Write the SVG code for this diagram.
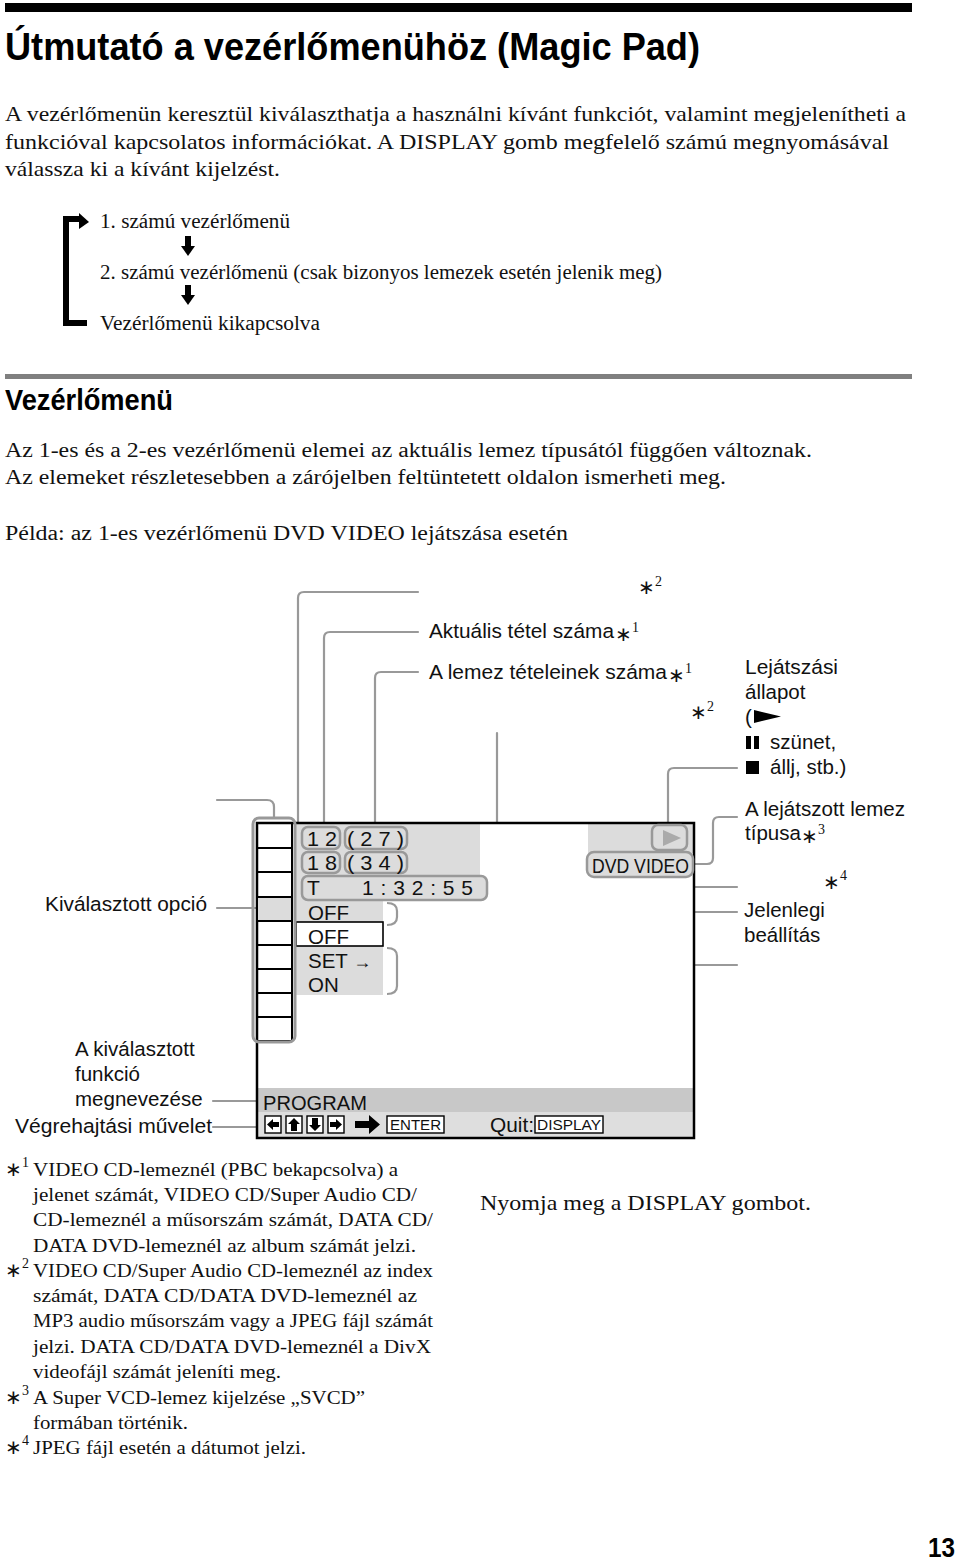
<svg xmlns="http://www.w3.org/2000/svg" width="960" height="1564" viewBox="0 0 960 1564">
<style>
.serif{font-family:"Liberation Serif","Times New Roman",serif;fill:#111}
.sans{font-family:"Liberation Sans",Arial,sans-serif;fill:#111}
.head{font-family:"Liberation Sans",Arial,sans-serif;font-weight:bold;fill:#000}
.conn{fill:none;stroke:#999;stroke-width:2.2;stroke-linecap:round;stroke-linejoin:round}
.pill{fill:#dcdcdc;stroke:#999;stroke-width:2.5}
.bg{fill:#dcdcdc}
.line{stroke:#000;stroke-width:2}
.key{fill:#fff;stroke:#000;stroke-width:1.4}
.blk{fill:#000}
.ast{font-family:"Liberation Serif","Times New Roman",serif;fill:#111;font-size:20px}
</style>
<rect width="960" height="1564" fill="#fff"/>

<g id="header">
  <rect x="5" y="3" width="907" height="9" fill="#000"/>
  <text class="head" x="5" y="60" font-size="39" textLength="695" lengthAdjust="spacingAndGlyphs">Útmutató a vezérlőmenühöz (Magic Pad)</text>
</g>

<g id="intro" class="serif" font-size="21">
  <text x="5" y="121" textLength="901" lengthAdjust="spacingAndGlyphs">A vezérlőmenün keresztül kiválaszthatja a használni kívánt funkciót, valamint megjelenítheti a</text>
  <text x="5" y="149" textLength="884" lengthAdjust="spacingAndGlyphs">funkcióval kapcsolatos információkat. A DISPLAY gomb megfelelő számú megnyomásával</text>
  <text x="5" y="176" textLength="275" lengthAdjust="spacingAndGlyphs">válassza ki a kívánt kijelzést.</text>
</g>

<g id="menu-cycle">
  <path d="M80 219 H66 V323 H87" fill="none" stroke="#000" stroke-width="6"/>
  <polygon points="79,213 89,222 79,229" class="blk"/>
  <rect x="185" y="236" width="6" height="12" class="blk"/>
  <polygon points="181,246 195,246 188,256" class="blk"/>
  <rect x="185" y="285" width="6" height="12" class="blk"/>
  <polygon points="181,295 195,295 188,305" class="blk"/>
  <text class="serif" font-size="20" x="100" y="228" textLength="190" lengthAdjust="spacingAndGlyphs">1. számú vezérlőmenü</text>
  <text class="serif" font-size="20" x="100" y="279" textLength="562" lengthAdjust="spacingAndGlyphs">2. számú vezérlőmenü (csak bizonyos lemezek esetén jelenik meg)</text>
  <text class="serif" font-size="20" x="100" y="330" textLength="220" lengthAdjust="spacingAndGlyphs">Vezérlőmenü kikapcsolva</text>
</g>

<g id="section">
  <rect x="5" y="374" width="907" height="5" fill="#808080"/>
  <text class="head" x="5" y="410" font-size="30" textLength="168" lengthAdjust="spacingAndGlyphs">Vezérlőmenü</text>
  <text class="serif" font-size="20.5" x="5" y="457" textLength="807" lengthAdjust="spacingAndGlyphs">Az 1-es és a 2-es vezérlőmenü elemei az aktuális lemez típusától függően változnak.</text>
  <text class="serif" font-size="20.5" x="5" y="484" textLength="721" lengthAdjust="spacingAndGlyphs">Az elemeket részletesebben a zárójelben feltüntetett oldalon ismerheti meg.</text>
  <text class="serif" font-size="20.5" x="5" y="540" textLength="563" lengthAdjust="spacingAndGlyphs">Példa: az 1-es vezérlőmenü DVD VIDEO lejátszása esetén</text>
</g>

<g id="connectors" class="conn">
  <path d="M418 592 H304 Q298 592 298 598 V856 Q298 862 303 862"/>
  <path d="M418 632 H330 Q324 632 324 638 V827"/>
  <path d="M418 672 H381 Q375 672 375 678 V827"/>
  <path d="M497 733 V856 Q497 862 491 862 H407"/>
  <path d="M737 768 H674 Q668 768 668 774 V825"/>
  <path d="M693 864 H707 Q713 864 713 858 V823 Q713 817 719 817 H737"/>
  <path d="M487 887 H737"/>
  <path d="M397 912 H737"/>
  <path d="M397 965 H737"/>
  <path d="M217 800 H267 Q274 800 274 807 V818"/>
  <path d="M217 908 H272"/>
  <path d="M213 1101 H265"/>
  <path d="M213 1127 H265"/>
  <circle cx="274" cy="908" r="4" fill="#999" stroke="none"/>
  <circle cx="266" cy="1101" r="3" fill="#999" stroke="none"/>
  <circle cx="266" cy="1127" r="3" fill="#999" stroke="none"/>
</g>

<g id="display">
  <rect x="257" y="823" width="437" height="315" fill="#fff"/>
  <rect x="296" y="823" width="184" height="74" class="bg"/>
  <rect x="296" y="897" width="87" height="98" class="bg"/>
  <rect x="588" y="823" width="106" height="30" class="bg"/>
  <rect x="257" y="1088" width="437" height="24" fill="#c8c8c8"/>
  <rect x="257" y="1112" width="437" height="25" fill="#dedede"/>
  <rect x="296" y="922" width="87" height="24" fill="#fff" stroke="#000" stroke-width="1.6"/>
  <rect x="257" y="823" width="437" height="315" fill="none" stroke="#000" stroke-width="2.5"/>
</g>

<g id="option-column">
  <rect x="257" y="897" width="35" height="24" class="bg"/>
  <rect x="257" y="823" width="35" height="218" fill="none" stroke="#000" stroke-width="2"/>
  <path class="line" d="M257 848 H292 M257 872 H292 M257 897 H292 M257 921 H292 M257 945 H292 M257 969 H292 M257 993 H292 M257 1017 H292"/>
  <rect x="253" y="818" width="42" height="224" rx="6" fill="none" stroke="#999" stroke-width="3"/>
</g>

<g id="pills">
  <rect x="302" y="827" width="38" height="22" rx="6" class="pill"/>
  <rect x="345" y="827" width="62" height="22" rx="6" class="pill"/>
  <rect x="302" y="852" width="38" height="21" rx="6" class="pill"/>
  <rect x="345" y="852" width="62" height="21" rx="6" class="pill"/>
  <rect x="302" y="876" width="185" height="24" rx="6" class="pill"/>
  <text class="sans" font-size="21" x="307" y="846" textLength="30" lengthAdjust="spacingAndGlyphs">1 2</text>
  <text class="sans" font-size="21" x="347" y="846" textLength="57" lengthAdjust="spacingAndGlyphs">( 2 7 )</text>
  <text class="sans" font-size="21" x="307" y="870" textLength="30" lengthAdjust="spacingAndGlyphs">1 8</text>
  <text class="sans" font-size="21" x="347" y="870" textLength="57" lengthAdjust="spacingAndGlyphs">( 3 4 )</text>
  <text class="sans" font-size="21" x="307" y="895">T</text>
  <text class="sans" font-size="21" x="362" y="895" textLength="111" lengthAdjust="spacing">1 : 3 2 : 5 5</text>
</g>

<g id="settings" class="sans" font-size="20.5">
  <text x="308" y="920">OFF</text>
  <text x="308" y="944">OFF</text>
  <text x="308" y="968">SET <tspan font-size="18">→</tspan></text>
  <text x="308" y="992">ON</text>
  <path d="M387 903 Q397 903 397 911 V917 Q397 925 387 925" fill="none" stroke="#999" stroke-width="2.2"/>
  <path d="M387 948 Q397 948 397 956 V986 Q397 994 387 994" fill="none" stroke="#999" stroke-width="2.2"/>
</g>

<g id="play-state">
  <rect x="652" y="825" width="35" height="25" rx="6" class="pill"/>
  <polygon points="663,830 681,838 663,846" fill="#aaa"/>
</g>

<g id="disc-type">
  <rect x="587" y="852" width="106" height="25" rx="7" class="pill"/>
  <text class="sans" font-size="21" x="592" y="873" textLength="97" lengthAdjust="spacingAndGlyphs">DVD VIDEO</text>
</g>

<g id="function-bar">
  <text class="sans" font-size="21" x="263" y="1110" textLength="104" lengthAdjust="spacingAndGlyphs">PROGRAM</text>
  <rect x="265" y="1116" width="16" height="17" class="key"/>
  <rect x="286" y="1116" width="16" height="17" class="key"/>
  <rect x="307" y="1116" width="16" height="17" class="key"/>
  <rect x="328" y="1116" width="16" height="17" class="key"/>
  <polygon points="267,1124.5 273,1119 273,1122 279,1122 279,1127 273,1127 273,1130" class="blk"/>
  <polygon points="294,1118 300,1124 297,1124 297,1131 291,1131 291,1124 288,1124" class="blk"/>
  <polygon points="315,1131 321,1125 318,1125 318,1118 312,1118 312,1125 309,1125" class="blk"/>
  <polygon points="342,1124.5 336,1119 336,1122 330,1122 330,1127 336,1127 336,1130" class="blk"/>
  <polygon points="355,1121 369,1121 369,1115 380,1124.5 369,1134 369,1128 355,1128" class="blk"/>
  <rect x="387" y="1116" width="57" height="17" class="key"/>
  <text class="sans" font-size="15" x="390" y="1130" textLength="51" lengthAdjust="spacingAndGlyphs">ENTER</text>
  <text class="sans" font-size="20.5" x="490" y="1132" textLength="44" lengthAdjust="spacingAndGlyphs">Quit:</text>
  <rect x="535" y="1116" width="68" height="17" class="key"/>
  <text class="sans" font-size="15" x="537" y="1130" textLength="64" lengthAdjust="spacingAndGlyphs">DISPLAY</text>
</g>

<g id="labels-top" class="sans" font-size="20.5">
  <text class="ast" x="638" y="594">∗<tspan dy="-8" font-size="14">2</tspan></text>
  <text x="429" y="638" textLength="185" lengthAdjust="spacingAndGlyphs">Aktuális tétel száma</text>
  <text class="ast" x="615" y="641">∗<tspan dy="-9" font-size="14">1</tspan></text>
  <text x="429" y="679" textLength="238" lengthAdjust="spacingAndGlyphs">A lemez tételeinek száma</text>
  <text class="ast" x="668" y="682">∗<tspan dy="-9" font-size="14">1</tspan></text>
  <text class="ast" x="690" y="719">∗<tspan dy="-8" font-size="14">2</tspan></text>
</g>

<g id="labels-right" class="sans" font-size="20.5">
  <text x="745" y="674" textLength="93" lengthAdjust="spacingAndGlyphs">Lejátszási</text>
  <text x="745" y="699">állapot</text>
  <text x="745" y="724">(</text>
  <polygon points="754,710 781,716.5 754,723" class="blk"/>
  <rect x="746" y="736" width="5" height="13" class="blk"/>
  <rect x="754" y="736" width="5" height="13" class="blk"/>
  <text x="770" y="749">szünet,</text>
  <rect x="746" y="761" width="13" height="13" class="blk"/>
  <text x="770" y="774">állj, stb.)</text>
  <text x="745" y="816" textLength="160" lengthAdjust="spacingAndGlyphs">A lejátszott lemez</text>
  <text x="745" y="840">típusa</text>
  <text class="ast" x="801" y="843">∗<tspan dy="-9" font-size="14">3</tspan></text>
  <text class="ast" x="823" y="889">∗<tspan dy="-9" font-size="14">4</tspan></text>
  <text x="744" y="917">Jelenlegi</text>
  <text x="744" y="942">beállítás</text>
</g>

<g id="labels-left" class="sans" font-size="20.5">
  <text x="45" y="911" textLength="162" lengthAdjust="spacingAndGlyphs">Kiválasztott opció</text>
  <text x="75" y="1056">A kiválasztott</text>
  <text x="75" y="1081">funkció</text>
  <text x="75" y="1106">megnevezése</text>
  <text x="15" y="1133" textLength="197" lengthAdjust="spacingAndGlyphs">Végrehajtási művelet</text>
</g>

<g id="footnotes" class="serif" font-size="19.5">
  <text class="ast" x="5" y="1176">∗<tspan dy="-9" font-size="14">1</tspan></text>
  <text x="33" y="1176" textLength="365" lengthAdjust="spacingAndGlyphs">VIDEO CD-lemeznél (PBC bekapcsolva) a</text>
  <text x="33" y="1201" textLength="384" lengthAdjust="spacingAndGlyphs">jelenet számát, VIDEO CD/Super Audio CD/</text>
  <text x="33" y="1226" textLength="400" lengthAdjust="spacingAndGlyphs">CD-lemeznél a műsorszám számát, DATA CD/</text>
  <text x="33" y="1252" textLength="383" lengthAdjust="spacingAndGlyphs">DATA DVD-lemeznél az album számát jelzi.</text>
  <text class="ast" x="5" y="1277">∗<tspan dy="-9" font-size="14">2</tspan></text>
  <text x="33" y="1277" textLength="400" lengthAdjust="spacingAndGlyphs">VIDEO CD/Super Audio CD-lemeznél az index</text>
  <text x="33" y="1302" textLength="384" lengthAdjust="spacingAndGlyphs">számát, DATA CD/DATA DVD-lemeznél az</text>
  <text x="33" y="1327" textLength="400" lengthAdjust="spacingAndGlyphs">MP3 audio műsorszám vagy a JPEG fájl számát</text>
  <text x="33" y="1353" textLength="398" lengthAdjust="spacingAndGlyphs">jelzi. DATA CD/DATA DVD-lemeznél a DivX</text>
  <text x="33" y="1378" textLength="248" lengthAdjust="spacingAndGlyphs">videofájl számát jeleníti meg.</text>
  <text class="ast" x="5" y="1404">∗<tspan dy="-9" font-size="14">3</tspan></text>
  <text x="33" y="1404" textLength="332" lengthAdjust="spacingAndGlyphs">A Super VCD-lemez kijelzése „SVCD”</text>
  <text x="33" y="1429" textLength="155" lengthAdjust="spacingAndGlyphs">formában történik.</text>
  <text class="ast" x="5" y="1454">∗<tspan dy="-9" font-size="14">4</tspan></text>
  <text x="33" y="1454" textLength="273" lengthAdjust="spacingAndGlyphs">JPEG fájl esetén a dátumot jelzi.</text>
</g>

<g id="instruction">
  <text class="serif" font-size="21" x="480" y="1210" textLength="331" lengthAdjust="spacingAndGlyphs">Nyomja meg a DISPLAY gombot.</text>
</g>

<g id="page-number">
  <text class="head" x="928" y="1557" font-size="28" textLength="27" lengthAdjust="spacingAndGlyphs">13</text>
</g>
</svg>
